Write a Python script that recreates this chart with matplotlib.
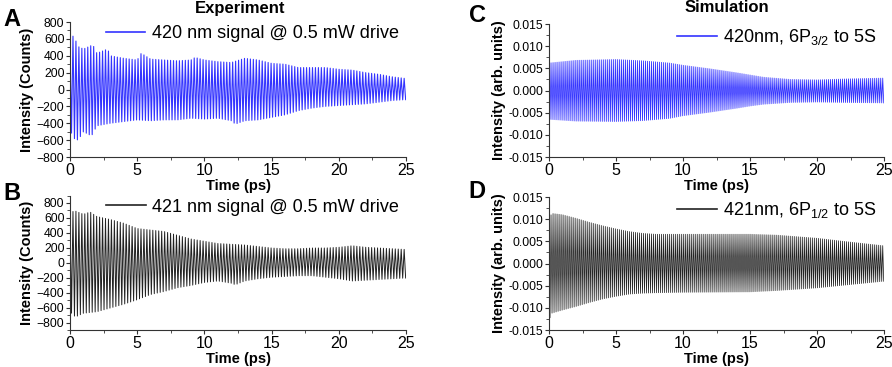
import numpy as np
import matplotlib
matplotlib.use('Agg')
import matplotlib.pyplot as plt
from matplotlib.ticker import MultipleLocator

plt.rcParams['font.family'] = ['Liberation Sans', 'DejaVu Sans']
plt.rcParams['mathtext.fontset'] = 'custom'
plt.rcParams['mathtext.rm'] = 'Liberation Sans'

# envelopes (time in ps)
tA = [0, 0.25, 0.6, 1, 1.7, 2, 2.8, 3, 4, 5, 5.3, 6, 7, 8, 9, 9.3, 10, 11, 12, 13, 14, 15, 16, 17, 18, 19, 20, 21, 22, 23, 24, 25]
upA = [500, 650, 510, 480, 530, 430, 480, 400, 370, 350, 430, 360, 350, 340, 350, 380, 350, 330, 320, 370, 350, 310, 300, 260, 260, 260, 240, 230, 200, 180, 150, 130]
tA_lo = [0, 0.3, 0.6, 1, 1.6, 2, 3, 4, 5, 6, 7, 8, 9, 10, 11, 12, 12.3, 13, 14, 15, 16, 17, 18, 19, 20, 21, 22, 23, 24, 25]
loA = [-480, -580, -600, -500, -550, -430, -400, -380, -360, -370, -360, -360, -340, -350, -340, -370, -410, -370, -360, -330, -300, -250, -220, -200, -190, -180, -170, -150, -130, -120]

tB = [0, 0.3, 1, 1.5, 2, 3, 4, 5, 6, 7, 8, 9, 10, 11, 12, 13, 14, 15, 16, 17, 18, 19, 20, 21, 22, 23, 24, 25]
upB = [650, 700, 650, 680, 620, 580, 530, 460, 440, 420, 370, 320, 290, 260, 250, 240, 220, 200, 190, 190, 200, 200, 210, 230, 210, 200, 190, 180]
tB_lo = [0, 0.4, 1, 2, 3, 4, 5, 6, 7, 8, 9, 10, 11, 12, 12.3, 13, 14, 15, 16, 17, 18, 19, 20, 21, 22, 23, 24, 25]
loB = [-650, -720, -670, -650, -600, -550, -490, -420, -380, -330, -300, -260, -240, -270, -290, -240, -210, -190, -180, -170, -170, -190, -210, -240, -230, -220, -210, -200]

tC = [0, 2, 5, 7, 9, 10, 12, 14, 15, 16, 18, 20, 22, 25]
upC = [0.0062, 0.0068, 0.0070, 0.0067, 0.0062, 0.0057, 0.0049, 0.0040, 0.0035, 0.0030, 0.0025, 0.0024, 0.0026, 0.0028]
loC = [-0.0065, -0.0069, -0.0070, -0.0068, -0.0063, -0.0057, -0.0049, -0.0040, -0.0035, -0.0031, -0.0027, -0.0026, -0.0027, -0.0028]

tD = [0, 0.2, 1, 2, 3, 4, 5, 6, 7, 8, 10, 15, 17, 20, 22, 25]
upD = [0.0100, 0.0113, 0.0110, 0.0102, 0.0093, 0.0085, 0.0078, 0.0072, 0.0068, 0.0066, 0.0066, 0.0066, 0.0064, 0.0057, 0.0050, 0.0040]
tD_lo = [0, 0.1, 1, 2, 3, 4, 5, 6, 7, 8, 10, 15, 17, 20, 22, 25]
loD = [-0.0150, -0.0113, -0.0105, -0.0097, -0.0088, -0.0080, -0.0074, -0.0069, -0.0067, -0.0066, -0.0065, -0.0064, -0.0061, -0.0055, -0.0049, -0.0040]

periodExp = 0.22   # beat period seen in the experiment traces
periodSim = 0.15


def trace(t_up, up, t_lo, lo, period):
    tp = np.arange(0, 25 + 1e-9, period / 2)
    hi = np.interp(tp, t_up, up)
    low = np.interp(tp, t_lo, lo)
    y = np.where(np.arange(len(tp)) % 2 == 0, hi, low)
    return tp, y


fig = plt.figure(figsize=(8.92, 3.67), dpi=100)
axA = fig.add_axes([0.0785, 0.5722, 0.3767, 0.3678])
axB = fig.add_axes([0.0785, 0.0995, 0.3767, 0.3678])
axC = fig.add_axes([0.6155, 0.5722, 0.3756, 0.3624])
axD = fig.add_axes([0.6155, 0.1008, 0.3756, 0.3624])

blue = '#3434ff'
dark = '#222222'

x, y = trace(tA, upA, tA_lo, loA, periodExp)
axA.plot(x, y, color=blue, lw=0.8, label='420 nm signal @ 0.5 mW drive')
x, y = trace(tB, upB, tB_lo, loB, periodExp)
axB.plot(x, y, color=dark, lw=0.7, label='421 nm signal @ 0.5 mW drive')
x, y = trace(tC, upC, tC, loC, periodSim)
axC.plot(x, y, color=blue, lw=0.6, label=r'420nm, 6P$_{3/2}$ to 5S')
x, y = trace(tD, upD, tD_lo, loD, periodSim)
axD.plot(x, y, color=dark, lw=0.55, label=r'421nm, 6P$_{1/2}$ to 5S')

axA.set_ylim(-800, 800)
axB.set_ylim(-900, 900)
for ax in (axA, axB):
    ax.yaxis.set_major_locator(MultipleLocator(200))
    ax.yaxis.set_minor_locator(MultipleLocator(100))
    ax.set_ylabel('Intensity (Counts)', fontsize=10.5, fontweight='bold', labelpad=2)
for ax in (axC, axD):
    ax.set_ylim(-0.015, 0.015)
    ax.yaxis.set_major_locator(MultipleLocator(0.005))
    ax.yaxis.set_minor_locator(MultipleLocator(0.0025))
    ax.yaxis.set_major_formatter(matplotlib.ticker.FormatStrFormatter('%.3f'))
    ax.set_ylabel('Intensity (arb. units)', fontsize=10.5, fontweight='bold', labelpad=2)

for ax in (axA, axB, axC, axD):
    ax.set_xlim(0, 25)
    ax.xaxis.set_major_locator(MultipleLocator(5))
    ax.xaxis.set_minor_locator(MultipleLocator(2.5))
    ax.set_xlabel('Time (ps)', fontsize=10.5, fontweight='bold', labelpad=1)
    ax.spines['top'].set_visible(False)
    ax.spines['right'].set_visible(False)
    for s in ('left', 'bottom'):
        ax.spines[s].set_color('#333333')
        ax.spines[s].set_linewidth(0.8)
    ax.tick_params(axis='x', which='major', labelsize=11.5, length=3, width=0.8, colors='#333333', labelcolor='black', pad=1)
    ax.tick_params(axis='y', which='major', labelsize=8.8, length=3, width=0.8, colors='#333333', labelcolor='black', pad=1)
    ax.tick_params(which='minor', length=2, width=0.6, colors='#333333')
    leg = ax.legend(loc='upper right', bbox_to_anchor=(1.0, 1.03), frameon=False, fontsize=13,
                    handlelength=2.2, handletextpad=0.35, borderaxespad=0)
    for h in leg.get_lines():
        h.set_linewidth(1.2)

fig.text(240 / 892, 1 - 8 / 367, 'Experiment', ha='center', va='center', fontsize=12, fontweight='bold')
fig.text(727 / 892, 1 - 8 / 367, 'Simulation', ha='center', va='center', fontsize=12, fontweight='bold')
for lbl, px, py in (('A', 12, 20), ('B', 12, 193), ('C', 477, 15), ('D', 477, 191)):
    fig.text(px / 892, 1 - py / 367, lbl, ha='center', va='center', fontsize=17, fontweight='bold')

fig.savefig('out.png', dpi=100)
